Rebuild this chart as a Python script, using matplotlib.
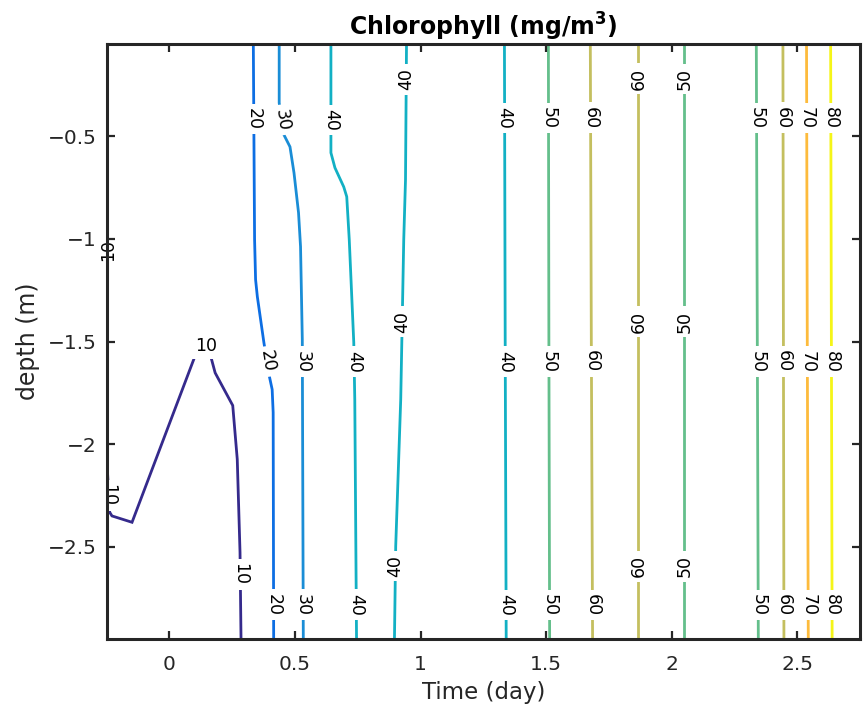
import numpy as np
import matplotlib.pyplot as plt

# уровни изолиний (mg/m^3)
line_levels = [10, 10, 20, 30, 40, 40, 40, 50, 60, 60, 50, 50, 60, 70, 80]

# время (сут) вдоль каждой изолинии
line_times = [
    [-0.247, -0.238, -0.229, -0.149, 0.109, 0.134, 0.159, 0.182, 0.252, 0.270, 0.281, 0.285],
    [-0.25, -0.25],
    [0.334, 0.339, 0.343, 0.350, 0.376, 0.398, 0.409, 0.413, 0.415],
    [0.437, 0.437, 0.456, 0.480, 0.496, 0.514, 0.522, 0.529, 0.533],
    [0.643, 0.643, 0.659, 0.694, 0.706, 0.716, 0.734, 0.738, 0.745],
    [0.944, 0.940, 0.933, 0.928, 0.921, 0.901, 0.896],
    [1.334, 1.337, 1.341],
    [1.509, 1.511, 1.514],
    [1.676, 1.680, 1.685],
    [1.867, 1.867, 1.867],
    [2.050, 2.050, 2.050],
    [2.337, 2.341, 2.345],
    [2.443, 2.445, 2.447],
    [2.537, 2.540, 2.544],
    [2.633, 2.636, 2.639],
]

# глубина (м) вдоль каждой изолинии
line_depths = [
    [-2.13, -2.331, -2.349, -2.380, -1.547, -1.504, -1.547, -1.652, -1.811, -2.073, -2.526, -2.95],
    [-0.99, -1.12],
    [-0.05, -1.003, -1.198, -1.281, -1.504, -1.670, -1.733, -1.845, -2.95],
    [-0.05, -0.337, -0.493, -0.551, -0.678, -0.872, -1.037, -1.489, -2.95],
    [-0.05, -0.580, -0.653, -0.746, -0.794, -1.003, -1.504, -1.781, -2.95],
    [-0.05, -0.712, -1.003, -1.329, -1.781, -2.497, -2.95],
    [-0.05, -1.5, -2.95],
    [-0.05, -1.5, -2.95],
    [-0.05, -1.5, -2.95],
    [-0.05, -1.5, -2.95],
    [-0.05, -1.5, -2.95],
    [-0.05, -1.5, -2.95],
    [-0.05, -1.5, -2.95],
    [-0.05, -1.5, -2.95],
    [-0.05, -1.5, -2.95],
]

# подписи: номер линии, глубина, поворот (время берётся с линии)
label_line = [2, 2, 2, 3, 3, 3, 4, 4, 4, 5, 5, 5,
              6, 6, 6, 7, 7, 7, 8, 8, 8, 9, 9, 9, 10, 10, 10,
              11, 11, 11, 12, 12, 12, 13, 13, 13, 14, 14, 14]
label_depth = [-0.415, -1.597, -2.781, -0.42, -1.597, -2.781, -0.42, -1.597, -2.781,
               -0.222, -1.403, -2.594,
               -0.41, -1.597, -2.783, -0.41, -1.597, -2.783, -0.41, -1.597, -2.783,
               -0.22, -1.402, -2.594, -0.22, -1.402, -2.594,
               -0.41, -1.597, -2.783, -0.41, -1.597, -2.783, -0.41, -1.597, -2.783,
               -0.41, -1.597, -2.783]
label_rot = [-90, -81, -90, -82, -90, -90, -90, -90, -90, 90, 90, 90,
             -90, -90, -90, -90, -90, -90, -90, -90, -90, 90, 90, 90, 90, 90, 90,
             -90, -90, -90, -90, -90, -90, -90, -90, -90, -90, -90, -90]

# подписи изолинии 10 (линия не монотонна по глубине)
label10_time = [0.146, 0.283, -0.245, -0.244]
label10_depth = [-1.519, -2.633, -2.249, -1.052]
label10_rot = [0, -90, -90, 90]

level_colors = {10: '#352a8c', 20: '#0d6ee3', 30: '#1a8dd6', 40: '#12b0c4',
                50: '#64bf8b', 60: '#c4bf5f', 70: '#fdbb3c', 80: '#f5f518'}

dark = '#262626'

fig = plt.figure(figsize=(8.68, 7.09), dpi=100)
ax = fig.add_axes([0.1229, 0.0983, 0.8679, 0.8397])

for lev, ts, ds in zip(line_levels, line_times, line_depths):
    ax.plot(ts, ds, color=level_colors[lev], lw=2.0, zorder=2, solid_joinstyle='miter')


def put_label(t, d, rot, lev):
    ax.text(t, d, str(lev), rotation=rot, rotation_mode='anchor',
            ha='center', va='center', fontsize=12.5, color='black', zorder=2.3,
            bbox=dict(boxstyle='square,pad=0.25', fc='white', ec='none'))


for i, d, r in zip(label_line, label_depth, label_rot):
    ts = np.array(line_times[i])
    ds = np.array(line_depths[i])
    t = np.interp(d, ds[::-1], ts[::-1])
    put_label(t, d, r, line_levels[i])

for t, d, r in zip(label10_time, label10_depth, label10_rot):
    put_label(t, d, r, 10)

ax.set_xlim(-0.25, 2.75)
ax.set_ylim(-2.95, -0.05)
ax.set_xticks([0, 0.5, 1, 1.5, 2, 2.5])
ax.set_xticklabels(['0', '0.5', '1', '1.5', '2', '2.5'])
ax.set_yticks([-2.5, -2, -1.5, -1, -0.5])
ax.set_yticklabels(['\u22122.5', '\u22122', '\u22121.5', '\u22121', '\u22120.5'])
ax.set_axisbelow(False)

for sp in ax.spines.values():
    sp.set_linewidth(2.2)
    sp.set_color(dark)
    sp.set_zorder(2.6)

ax.tick_params(direction='in', top=True, right=True, length=5.5, width=1.6,
               color=dark, labelcolor=dark, labelsize=14.5)
ax.tick_params(axis='x', pad=11)
ax.tick_params(axis='y', pad=7)

ax.set_xlabel('Time (day)', fontsize=16.5, color=dark, labelpad=5)
ax.set_ylabel('depth (m)', fontsize=17, color=dark, labelpad=6)
ax.set_title('Chlorophyll (mg/m$^\\mathbf{3}$)', fontsize=17, fontweight='bold', pad=6)

fig.savefig('out.png', dpi=100)
